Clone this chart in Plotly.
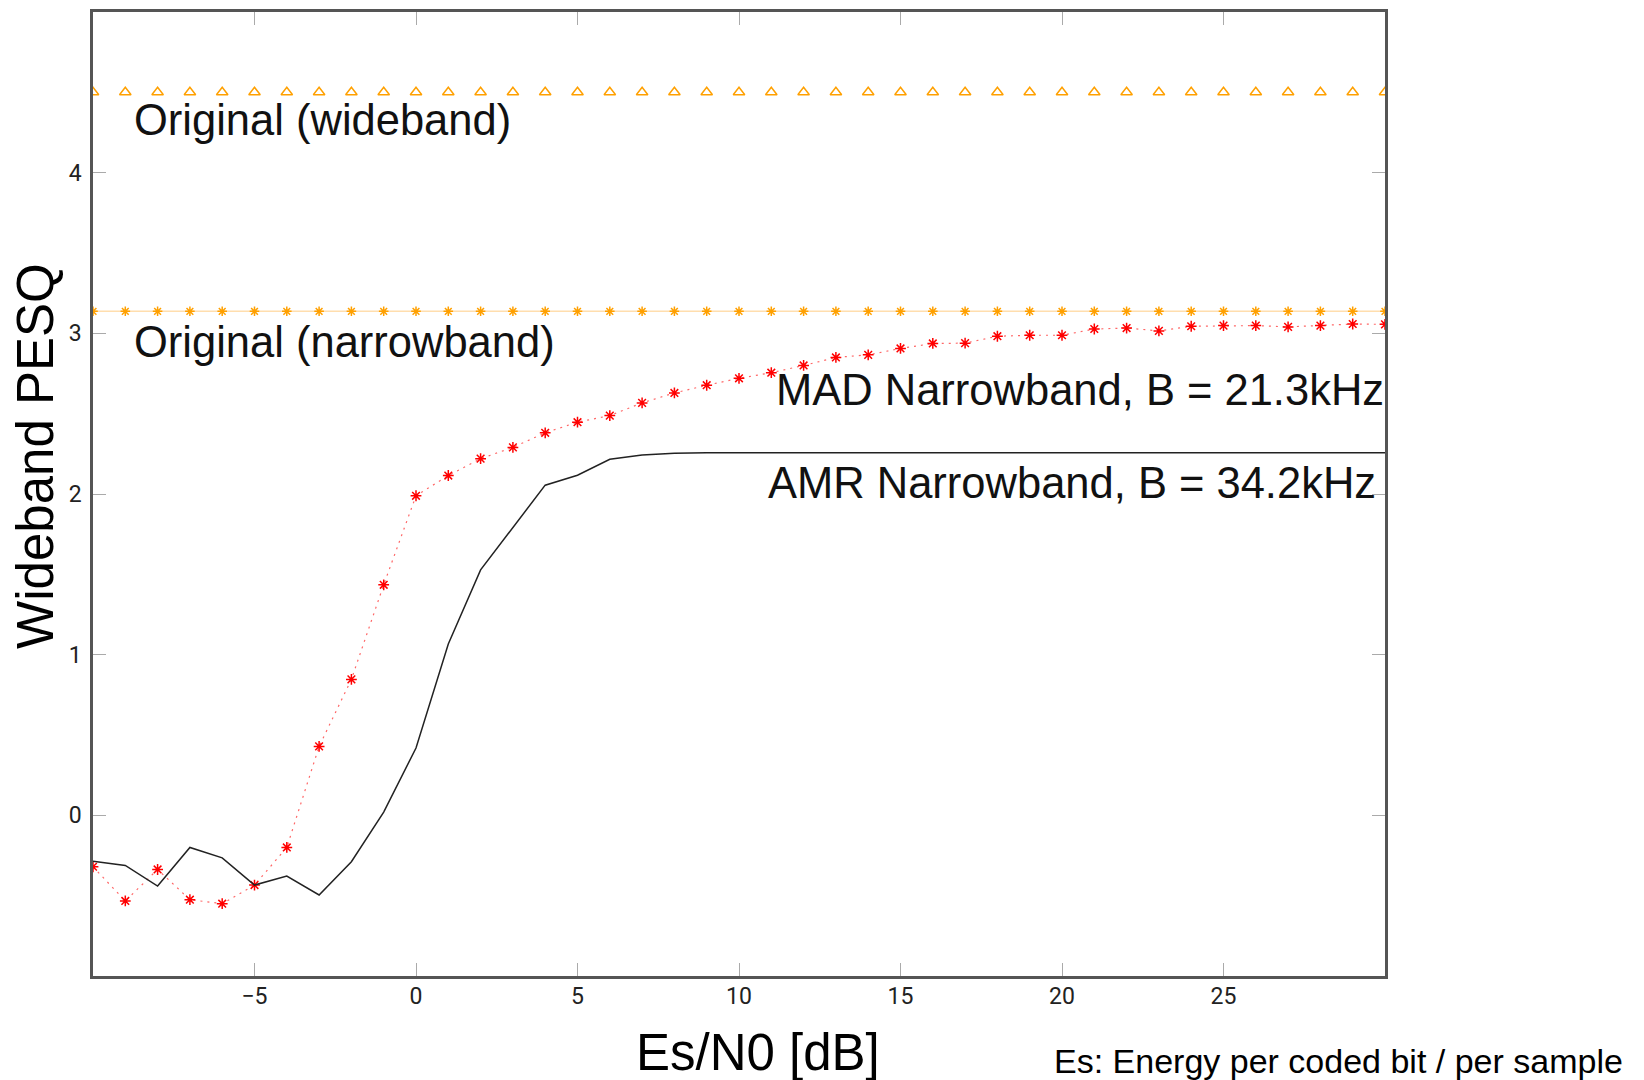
import plotly.graph_objects as go

# x axis: Es/N0 [dB]
snr = list(range(-10, 31))

# AMR Narrowband, B = 34.2kHz (black solid line)
amr = [-0.285, -0.312, -0.44, -0.20, -0.265, -0.434, -0.378, -0.496, -0.289, 0.02,
       0.419, 1.066, 1.528, 1.79, 2.055, 2.117, 2.216, 2.243, 2.253, 2.256,
       2.257, 2.257, 2.257, 2.257, 2.257, 2.257, 2.257, 2.257, 2.257, 2.257,
       2.257, 2.257, 2.257, 2.257, 2.257, 2.257, 2.257, 2.257, 2.257, 2.257, 2.257]

# MAD Narrowband, B = 21.3kHz (red dotted with asterisks)
mad = [-0.32, -0.533, -0.337, -0.525, -0.55, -0.434, -0.20, 0.429, 0.846, 1.435,
       1.989, 2.115, 2.22, 2.29, 2.381, 2.447, 2.488, 2.567, 2.629, 2.677,
       2.72, 2.755, 2.80, 2.85, 2.866, 2.906, 2.937, 2.939, 2.982, 2.988,
       2.988, 3.027, 3.033, 3.015, 3.044, 3.048, 3.048, 3.04, 3.048, 3.058, 3.056]

# Original reference levels
orig_nb = [3.137] * len(snr)
orig_wb = [4.5] * len(snr)

x_ticks = [-5, 0, 5, 10, 15, 20, 25]
y_ticks = [0, 1, 2, 3, 4]

FONT = "Liberation Sans, Arial, sans-serif"
TICKFONT = "Liberation Sans Narrow, Roboto, sans-serif"

fig = go.Figure()

fig.add_trace(go.Scatter(
    x=snr, y=orig_wb, mode="markers", name="Original (wideband)",
    marker=dict(symbol="triangle-up-open", size=10, color="#FFA000",
                line=dict(color="#FFA000", width=1.5)),
))
fig.add_trace(go.Scatter(
    x=snr, y=orig_nb, mode="lines+markers", name="Original (narrowband)",
    line=dict(color="rgba(255,200,120,0.6)", width=1.5),
    marker=dict(symbol="asterisk-open", size=8, color="#FFA000",
                line=dict(color="#FFA000", width=1.5)),
))
fig.add_trace(go.Scatter(
    x=snr, y=mad, mode="lines+markers", name="MAD Narrowband, B = 21.3kHz",
    line=dict(color="rgba(255,0,0,0.6)", width=1.2, dash="2px,5px"),
    marker=dict(symbol="asterisk-open", size=9, color="#FF0000",
                line=dict(color="#FF0000", width=1.5)),
))
fig.add_trace(go.Scatter(
    x=snr, y=amr, mode="lines", name="AMR Narrowband, B = 34.2kHz",
    line=dict(color="#222222", width=1.5),
))

ann_font = dict(family=FONT, size=43.5, color="#111111")
fig.add_annotation(x=-8.8, y=4.326, text="Original (wideband)", showarrow=False,
                   xanchor="left", yanchor="middle", font=ann_font)
fig.add_annotation(x=-8.8, y=2.947, text="Original (narrowband)", showarrow=False,
                   xanchor="left", yanchor="middle", font=ann_font)
fig.add_annotation(x=29.86, y=2.65, xshift=6, text="MAD Narrowband, B = 21.3kHz",
                   showarrow=False, xanchor="right", yanchor="middle", font=ann_font)
fig.add_annotation(x=29.77, y=2.066, text="AMR Narrowband, B = 34.2kHz", showarrow=False,
                   xanchor="right", yanchor="middle", font=ann_font)

# axis titles and note
fig.add_annotation(xref="paper", yref="paper", x=0.515, y=-0.0795,
                   text="Es/N0 [dB]", showarrow=False, xanchor="center", yanchor="middle",
                   font=dict(family=FONT, size=51, color="#000000"))
fig.add_annotation(xref="paper", yref="paper", x=-0.0445, y=0.539,
                   text="Wideband PESQ", showarrow=False, textangle=-90,
                   xanchor="center", yanchor="middle",
                   font=dict(family=FONT, size=51, color="#000000"))
fig.add_annotation(xref="paper", yref="paper", x=0.742, y=-0.088,
                   text="Es: Energy per coded bit / per sample", showarrow=False,
                   xanchor="left", yanchor="middle",
                   font=dict(family=FONT, size=34, color="#000000"))

axis_common = dict(
    showgrid=False, zeroline=False,
    showline=True, linecolor="#555555", linewidth=2.5, mirror="ticks",
    ticks="inside", ticklen=13, tickcolor="#aaaaaa", tickwidth=1,
    tickfont=dict(family=TICKFONT, size=23, color="#222222"),
)

fig.update_layout(
    width=1636, height=1072,
    margin=dict(l=85, r=259, t=1, b=104),
    paper_bgcolor="white", plot_bgcolor="white",
    showlegend=False,
    xaxis=dict(range=[-10, 30], tickvals=x_ticks, ticklabelstandoff=-2, **axis_common),
    yaxis=dict(range=[-1, 5], tickvals=y_ticks, ticklabelstandoff=4, **axis_common),
)

fig.write_html("out.html")
